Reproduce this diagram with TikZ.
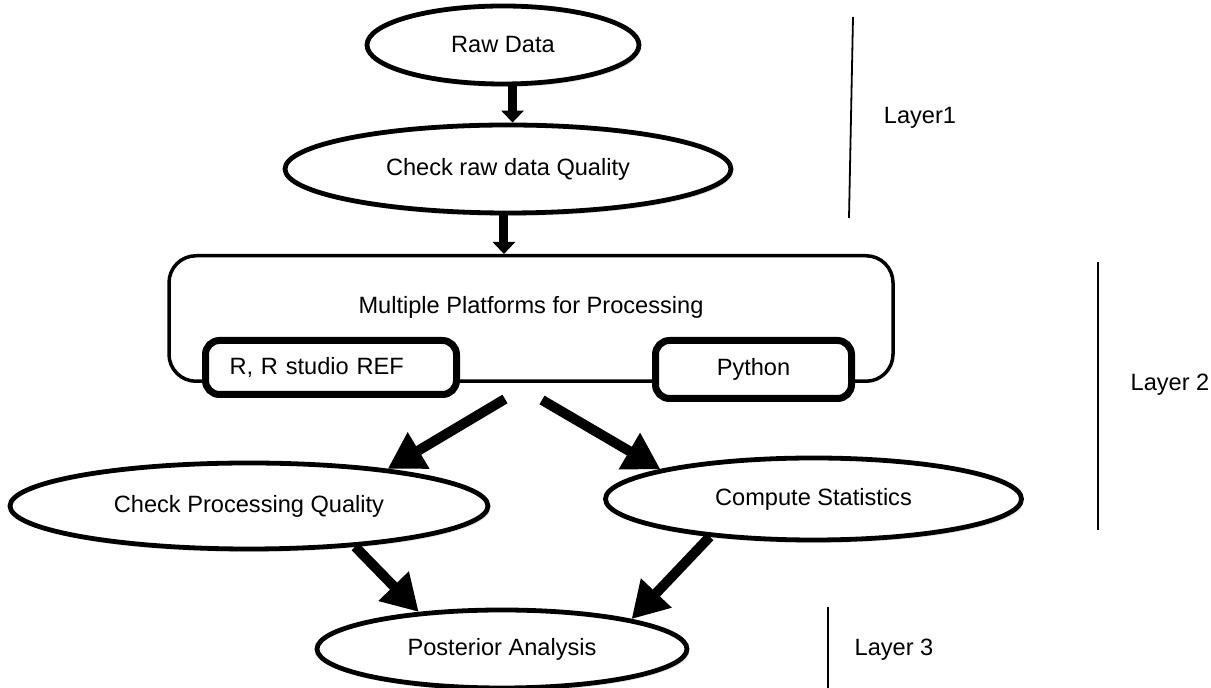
\documentclass[tikz,border=0pt]{standalone}
\usepackage{fontspec}
\setmainfont{Liberation Sans}
\usetikzlibrary{arrows.meta,shapes.geometric,shadows}

\tikzset{
	soft shadow/.style = {drop shadow = {opacity = 0.18, shadow xshift = 1pt, shadow yshift = -1.5pt}},
	stage/.style = {ellipse, draw, line width = 2.4pt, fill = white, inner sep = 0pt, soft shadow},
	platform/.style = {draw, line width = 1.75pt, rounded corners = 13.5pt},
	tool/.style = {draw, line width = 3.5pt, rounded corners = 7pt, fill = white, inner sep = 0pt, soft shadow},
	thin arrow/.style = {line width = 4.5pt, -{Triangle[length = 6pt, width = 11pt]}},
	fat arrow/.style = {line width = 5pt, -{Triangle[length = 18pt, width = 20pt]}},
	layer line/.style = {line width = 0.9pt}
}

\begin{document}
\begin{tikzpicture}[x = 0.5pt, y = -0.5pt, font = \fontsize{11.8}{14}\selectfont]

	\useasboundingbox (0, 0) rectangle (1211, 688);

	% Layer 1

	\node [stage, minimum width = 136pt, minimum height = 39pt] (raw) at (503, 45) {Raw Data};
	\node [stage, minimum width = 223pt, minimum height = 44pt] (chk) at (508, 169) {Check raw data Quality};

	% Layer 2: platforms

	\node [platform, minimum width = 362pt, minimum height = 62.75pt] (multi) at (531, 318.5) {};
	\node (title) at (531, 307) {Multiple Platforms for Processing};
	\node [tool, minimum width = 125.5pt, minimum height = 27pt, text width = 101.5pt, inner xsep = 12pt, align = left] (rbox) at (331, 367.5) {R, R studio REF};
	\node [tool, minimum width = 98pt, minimum height = 29pt] (pybox) at (753.5, 369.5) {Python};

	% Layer 2: results

	\node [stage, minimum width = 239pt, minimum height = 43pt] (cpq) at (249, 506) {Check Processing Quality};
	\node [stage, minimum width = 208pt, minimum height = 41pt] (cs) at (813.5, 499) {Compute Statistics};

	% Layer 3

	\node [stage, minimum width = 185pt, minimum height = 39pt] (pa) at (502, 649) {Posterior Analysis};

	% Arrows

	\coordinate (forkL) at (505, 399);
	\coordinate (forkR) at (542, 400);

	\draw [thin arrow] (raw.-77) -- (raw.-77 |- chk.north);
	\draw [thin arrow] (chk.-95) -- (chk.-95 |- multi.north);
	\draw [fat arrow] (forkL) -- (cpq.15);
	\draw [fat arrow] (forkR) -- (cs.169);
	\draw [fat arrow] (cpq.-21) -- (pa.156);
	\draw [fat arrow] (cs.200) -- (pa.13);

	% Layer markers

	\draw [layer line] (853, 17) -- (849, 218);
	\node (lay1) at (920, 118) {Layer1};

	\draw [layer line] (1098, 262) -- (1098, 530);
	\node (lay2) at (1170, 385) {Layer 2};

	\draw [layer line] (828, 607) -- (828, 688);
	\node (lay3) at (894, 650) {Layer 3};

\end{tikzpicture}
\end{document}
